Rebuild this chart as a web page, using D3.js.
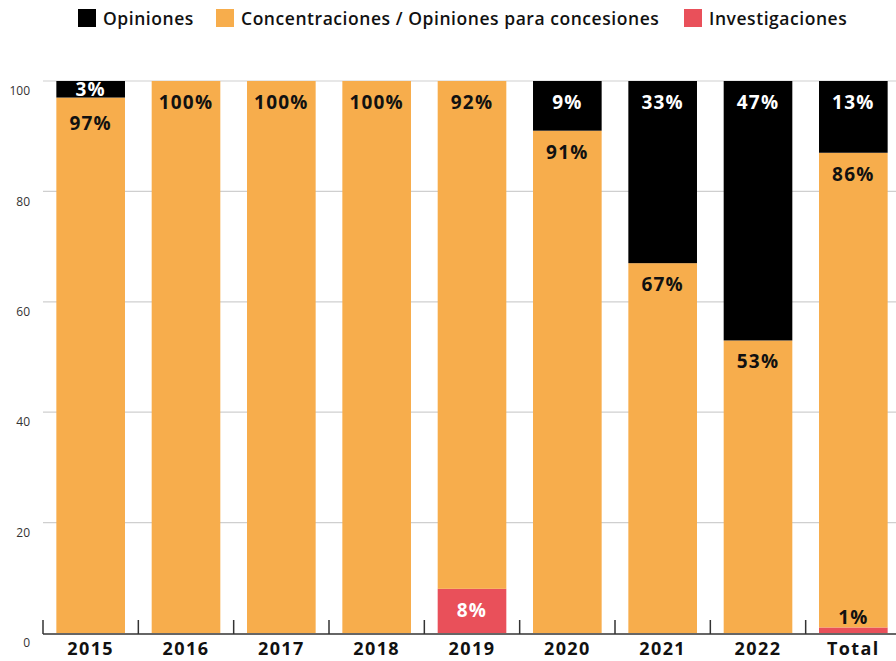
<!DOCTYPE html>
<html>
<head>
<meta charset="utf-8">
<script src="https://cdn.jsdelivr.net/npm/d3@7"></script>
<style>
  body { margin: 0; background: #fff; }
  svg { font-family: "Open Sans", "Noto Sans", sans-serif; }
</style>
</head>
<body>
<script>
var categories = ["2015", "2016", "2017", "2018", "2019", "2020", "2021", "2022", "Total"];
var opiniones = [3, 0, 0, 0, 0, 9, 33, 47, 13];
var concentraciones = [97, 100, 100, 100, 92, 91, 67, 53, 86];
var investigaciones = [0, 0, 0, 0, 8, 0, 0, 0, 1];
var yTicks = [0, 20, 40, 60, 80, 100];

var seriesNames = ["Opiniones", "Concentraciones / Opiniones para concesiones", "Investigaciones"];
var colors = { "Opiniones": "#000000", "Concentraciones / Opiniones para concesiones": "#F7AD4C", "Investigaciones": "#E9505A" };
var textColors = { "Opiniones": "#ffffff", "Concentraciones / Opiniones para concesiones": "#111111", "Investigaciones": "#ffffff" };

var W = 896, H = 661;

var rows = categories.map(function(c, i) {
  return {
    cat: c,
    "Investigaciones": investigaciones[i],
    "Concentraciones / Opiniones para concesiones": concentraciones[i],
    "Opiniones": opiniones[i]
  };
});

var svg = d3.select("body").append("svg")
  .attr("width", W)
  .attr("height", H);

var x = d3.scaleBand().domain(categories).range([43, 901]).paddingInner(0.28).paddingOuter(0.14);
var y = d3.scaleLinear().domain([0, 100]).range([633, 81]);

// gridlines
svg.append("g").selectAll("line")
  .data(yTicks.filter(function(d) { return d > 0; }))
  .enter().append("line")
  .attr("x1", 43).attr("x2", W)
  .attr("y1", function(d) { return y(d); })
  .attr("y2", function(d) { return y(d); })
  .attr("stroke", "#cfcfcf")
  .attr("stroke-width", 1.2);

// y tick labels (sit a bit under the line)
svg.append("g").selectAll("text")
  .data(yTicks)
  .enter().append("text")
  .attr("x", 30)
  .attr("y", function(d) { return y(d) + 11; })
  .attr("text-anchor", "end")
  .attr("dominant-baseline", "middle")
  .attr("font-size", 12)
  .attr("fill", "#333")
  .text(function(d) { return d; });

// stacked bars
var stack = d3.stack().keys(["Investigaciones", "Concentraciones / Opiniones para concesiones", "Opiniones"]);
var layers = stack(rows);

svg.append("g").selectAll("g")
  .data(layers)
  .enter().append("g")
  .attr("fill", function(d) { return colors[d.key]; })
  .selectAll("rect")
  .data(function(d) { return d; })
  .enter().append("rect")
  .attr("x", function(d) { return x(d.data.cat); })
  .attr("width", x.bandwidth())
  .attr("y", function(d) { return y(d[1]); })
  .attr("height", function(d) { return y(d[0]) - y(d[1]); });

// labels, top-down in every bar
var labels = [];
categories.forEach(function(c, i) {
  var prev = -Infinity;
  layers.slice().reverse().forEach(function(layer) {
    var d = layer[i];
    var v = d[1] - d[0];
    if (v <= 0) return;
    var top = y(d[1]), h = y(d[0]) - y(d[1]);
    var cy, col = textColors[layer.key];
    if (h < 12) { cy = top - 10; col = "#111"; }
    else if (h < 30) { cy = top + h / 2; }
    else { cy = Math.max(top + 21, prev + 34); }
    prev = cy;
    labels.push({ cat: c, cy: cy, col: col, text: v + "%" });
  });
});

svg.append("g").selectAll("text")
  .data(labels)
  .enter().append("text")
  .attr("x", function(d) { return x(d.cat) + x.bandwidth() / 2; })
  .attr("y", function(d) { return d.cy; })
  .attr("text-anchor", "middle")
  .attr("dominant-baseline", "central")
  .attr("font-size", 19)
  .attr("font-weight", "bold")
  .attr("letter-spacing", 1.2)
  .attr("fill", function(d) { return d.col; })
  .text(function(d) { return d.text; });

// x axis: baseline + inward ticks at band edges
var axis = svg.append("g");
axis.append("line")
  .attr("x1", 43).attr("x2", W)
  .attr("y1", 634).attr("y2", 634)
  .attr("stroke", "#333").attr("stroke-width", 1.5);
axis.selectAll("line.tk")
  .data(categories)
  .enter().append("line")
  .attr("class", "tk")
  .attr("x1", function(d) { return x(d) - x.step() * x.paddingInner() / 2; })
  .attr("x2", function(d) { return x(d) - x.step() * x.paddingInner() / 2; })
  .attr("y1", 620).attr("y2", 634)
  .attr("stroke", "#333").attr("stroke-width", 1.5);
axis.selectAll("text")
  .data(categories)
  .enter().append("text")
  .attr("x", function(d) { return x(d) + x.bandwidth() / 2; })
  .attr("y", 655)
  .attr("text-anchor", "middle")
  .attr("font-size", 18)
  .attr("font-weight", "bold")
  .attr("letter-spacing", 1.4)
  .attr("fill", "#111")
  .text(function(d) { return d; });

// legend
var legendX = [78, 216, 684];
var legend = svg.append("g").selectAll("g")
  .data(seriesNames)
  .enter().append("g")
  .attr("transform", function(d, i) { return "translate(" + legendX[i] + ",9)"; });
legend.append("rect")
  .attr("width", 18).attr("height", 18)
  .attr("fill", function(d) { return colors[d]; });
legend.append("text")
  .attr("x", 25).attr("y", 9)
  .attr("dominant-baseline", "central")
  .attr("font-size", 17.5)
  .attr("font-weight", 600)
  .attr("letter-spacing", 0.55)
  .attr("fill", "#111")
  .text(function(d) { return d; });
</script>
</body>
</html>
